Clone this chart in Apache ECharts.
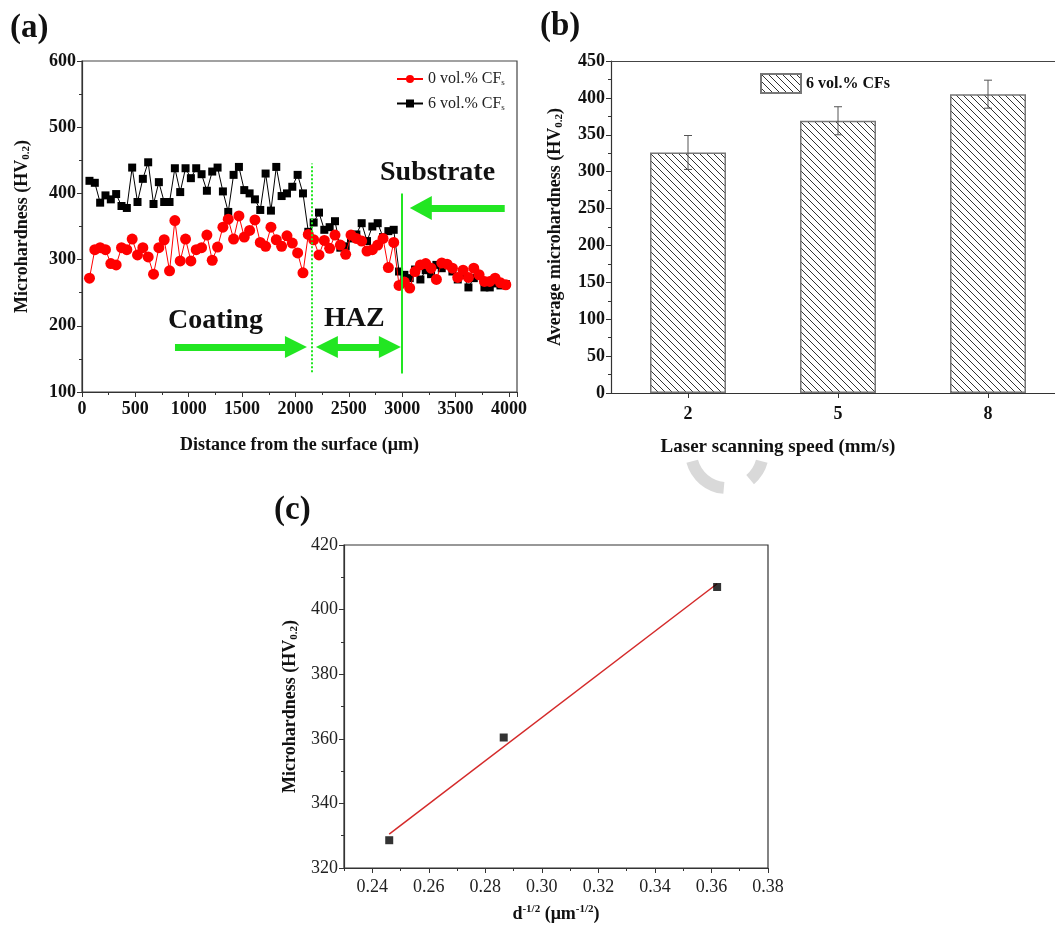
<!DOCTYPE html>
<html>
<head>
<meta charset="utf-8">
<script src="https://cdn.jsdelivr.net/npm/echarts@6/dist/echarts.min.js"></script>
<style>
html, body { margin: 0; padding: 0; background: #fff; }
#main { width: 1055px; height: 934px; }
</style>
</head>
<body>
<div id="main"></div>
<script>
// (a) hardness profile
const distance = [70,120,170,220,270,320,370,420,470,520,570,620,670,720,770,820,870,920,970,1020,
  1070,1120,1170,1220,1270,1320,1370,1420,1470,1520,1570,1620,1670,1720,1770,1820,1870,1920,1970,2020,
  2070,2120,2170,2220,2270,2320,2370,2420,2470,2520,2570,2620,2670,2720,2770,2820,2870,2920,2970,3020,
  3070,3120,3170,3220,3270,3320,3370,3420,3470,3520,3570,3620,3670,3720,3770,3820,3870,3920,3970];
const hv0 = [272,315,318,315,294,292,318,315,331,307,318,304,278,318,330,283,359,298,331,298,
  315,318,337,299,319,349,361,331,366,334,344,360,326,320,349,330,320,336,325,310,
  280,338,330,307,329,317,337,322,308,337,332,328,313,315,322,332,288,326,261,266,
  257,282,292,294,287,270,295,293,287,273,284,273,287,277,267,267,272,265,262];
const hv6 = [419,416,386,397,391,399,381,378,439,387,422,447,384,417,387,387,438,402,438,423,
  438,429,404,433,439,403,372,428,440,405,400,391,375,430,374,440,396,400,410,428,
  400,342,356,371,345,349,358,318,320,332,338,355,328,350,355,334,343,345,282,277,
  272,285,270,284,278,292,287,292,282,270,277,258,272,277,258,258,264,261,263];

// (b) average hardness vs scanning speed
const speeds = [2, 5, 8];
const avgHv = [326, 369, 405];
const errHv = [23, 19, 19];

// (c) Hall-Petch
const dInv = [0.246, 0.2865, 0.362];
const hvC = [328.6, 360.4, 407];
const xTicksC = [0.24, 0.26, 0.28, 0.30, 0.32, 0.34, 0.36, 0.38];
const xMinorC = [0.23, 0.25, 0.27, 0.29, 0.31, 0.33, 0.35, 0.37];

// least squares fit
const mx = dInv.reduce((a, b) => a + b, 0) / dInv.length;
const my = hvC.reduce((a, b) => a + b, 0) / hvC.length;
let sxy = 0, sxx = 0;
dInv.forEach((x, i) => { sxy += (x - mx) * (hvC[i] - my); sxx += (x - mx) * (x - mx); });
const slope = sxy / sxx;
const fitEnds = [dInv[0], dInv[dInv.length - 1]].map(x => [x, my + slope * (x - mx)]);

const FONT = '"Liberation Serif", "Times New Roman", serif';
const GREEN = '#22e622';

function hatch() {
  const s = 7;
  const c = document.createElement('canvas');
  c.width = c.height = s;
  const g = c.getContext('2d');
  g.fillStyle = '#fff';
  g.fillRect(0, 0, s, s);
  g.strokeStyle = '#333';
  g.lineWidth = 1;
  g.beginPath();
  [-s, 0, s].forEach(k => { g.moveTo(-1, -1 + k); g.lineTo(s + 1, s + 1 + k); });
  g.stroke();
  return c;
}

const boldLabel = { fontFamily: FONT, fontWeight: 'bold', fontSize: 18, color: '#111' };
const axisLine = { show: true, lineStyle: { color: '#333', width: 1.2 } };
const subRich = {
  sub: { fontFamily: FONT, fontWeight: 'bold', fontSize: 11, color: '#111', padding: [8, 0, 0, 0] }
};
const nameStyle = Object.assign({}, boldLabel, { rich: subRich });
const hatchFill = { image: hatch(), repeat: 'repeat' };

const chart = echarts.init(document.getElementById('main'));

chart.setOption({
  animation: false,
  backgroundColor: '#fff',
  grid: [
    { left: 82, top: 61, width: 435, height: 331, show: true, borderColor: '#444', borderWidth: 1.2 },
    { left: 611, top: 61, width: 444, height: 332 },
    { left: 344, top: 545, width: 424, height: 323, show: true, borderColor: '#333', borderWidth: 1.2 }
  ],
  legend: [
    {
      data: ['a0', 'a6'], orient: 'vertical', left: 396, top: 71, padding: 0, itemGap: 8,
      itemWidth: 26, itemHeight: 10,
      formatter: n => (n === 'a0' ? '0' : '6') + ' vol.% CF{s|s}',
      textStyle: {
        fontFamily: FONT, fontSize: 16, color: '#222',
        rich: { s: { fontFamily: FONT, fontSize: 9, color: '#222', padding: [8, 0, 0, 0] } }
      }
    },
    {
      data: ['b6'], left: 760, top: 73, padding: 0, itemWidth: 40, itemHeight: 19, icon: 'rect',
      formatter: () => '6 vol.% CFs',
      textStyle: { fontFamily: FONT, fontSize: 16, fontWeight: 'bold', color: '#111' }
    }
  ],
  xAxis: [
    {
      gridIndex: 0, type: 'value', min: 0, max: 4075, interval: 500,
      axisLine: axisLine, splitLine: { show: false },
      axisTick: { length: 5, lineStyle: { color: '#333' } },
      minorTick: { show: true, splitNumber: 2, length: 3, lineStyle: { color: '#333' } },
      axisLabel: Object.assign({ margin: 8, showMaxLabel: false, formatter: v => String(v) }, boldLabel),
      name: 'Distance from the surface (\u03bcm)', nameLocation: 'middle', nameGap: 44,
      nameTextStyle: boldLabel
    },
    {
      gridIndex: 1, type: 'value', min: 0.46, max: 9.34,
      axisLine: axisLine, splitLine: { show: false },
      axisTick: { length: 5, customValues: speeds, lineStyle: { color: '#333' } },
      axisLabel: Object.assign({ margin: 12, customValues: speeds }, boldLabel)
    },
    {
      gridIndex: 2, type: 'value', min: 0.23, max: 0.38,
      axisLine: axisLine, splitLine: { show: false },
      axisTick: { length: 5, customValues: xTicksC, lineStyle: { color: '#333' } },
      axisLabel: {
        customValues: xTicksC, formatter: v => v.toFixed(2), margin: 10,
        fontFamily: FONT, fontSize: 18, color: '#222'
      },
      name: 'd{sup|-1/2} (\u03bcm{sup|-1/2})', nameLocation: 'middle', nameGap: 36,
      nameTextStyle: Object.assign({}, boldLabel, {
        rich: { sup: { fontFamily: FONT, fontWeight: 'bold', fontSize: 11, color: '#111', padding: [0, 0, 9, 0] } }
      })
    },
    {
      gridIndex: 2, type: 'value', min: 0.23, max: 0.38, position: 'bottom',
      axisLine: { show: false }, splitLine: { show: false },
      axisTick: { length: 3, customValues: xMinorC, lineStyle: { color: '#333' } },
      axisLabel: { show: false, customValues: xMinorC }
    },
    {
      // top frame line of (b)
      gridIndex: 1, type: 'value', min: 0.46, max: 9.34, position: 'top',
      axisLine: { show: true, lineStyle: { color: '#444', width: 1.2 } },
      axisTick: { show: false }, axisLabel: { show: false }, splitLine: { show: false }
    }
  ],
  yAxis: [
    {
      gridIndex: 0, type: 'value', min: 100, max: 600, interval: 100,
      axisLine: axisLine, splitLine: { show: false },
      axisTick: { show: true, length: 5, lineStyle: { color: '#333' } },
      minorTick: { show: true, splitNumber: 2, length: 3, lineStyle: { color: '#333' } },
      axisLabel: Object.assign({ margin: 6 }, boldLabel),
      name: 'Microhardness (HV{sub|0.2})', nameLocation: 'middle', nameGap: 50,
      nameTextStyle: nameStyle
    },
    {
      gridIndex: 1, type: 'value', min: 0, max: 450, interval: 50,
      axisLine: axisLine, splitLine: { show: false },
      axisTick: { show: true, length: 5, lineStyle: { color: '#333' } },
      minorTick: { show: true, splitNumber: 2, length: 3, lineStyle: { color: '#333' } },
      axisLabel: Object.assign({ margin: 6 }, boldLabel),
      name: 'Average microhardness (HV{sub|0.2})', nameLocation: 'middle', nameGap: 46,
      nameTextStyle: nameStyle
    },
    {
      gridIndex: 2, type: 'value', min: 320, max: 420, interval: 20,
      axisLine: axisLine, splitLine: { show: false },
      axisTick: { show: true, length: 5, lineStyle: { color: '#333' } },
      minorTick: { show: true, splitNumber: 2, length: 3, lineStyle: { color: '#333' } },
      axisLabel: { margin: 6, fontFamily: FONT, fontSize: 18, color: '#222' },
      name: 'Microhardness (HV{sub|0.2})', nameLocation: 'middle', nameGap: 44,
      nameTextStyle: nameStyle
    }
  ],
  series: [
    {
      name: 'a6', type: 'line', xAxisIndex: 0, yAxisIndex: 0,
      data: distance.map((d, i) => [d, hv6[i]]),
      symbol: 'rect', symbolSize: 8,
      itemStyle: { color: '#000' }, lineStyle: { color: '#000', width: 1 },
      z: 2,
      markLine: {
        silent: true, label: { show: false }, symbol: 'none',
        data: [
          [{ coord: [2150, 130], symbol: 'none', lineStyle: { color: GREEN, width: 2, type: [2, 2] } },
           { coord: [2150, 445], symbol: 'none' }],
          [{ coord: [3000, 128], symbol: 'none', lineStyle: { color: GREEN, width: 2, type: 'solid' } },
           { coord: [3000, 400], symbol: 'none' }],
          [{ coord: [871, 168], symbol: 'none', lineStyle: { color: GREEN, width: 7, type: 'solid' } },
           { coord: [2004, 168], symbol: 'triangle', symbolSize: [22, 22] }],
          [{ coord: [2294, 168], symbol: 'triangle', symbolSize: [22, 22], lineStyle: { color: GREEN, width: 7, type: 'solid' } },
           { coord: [2884, 168], symbol: 'triangle', symbolSize: [22, 22] }],
          [{ coord: [3960, 378], symbol: 'none', lineStyle: { color: GREEN, width: 7, type: 'solid' } },
           { coord: [3174, 378], symbol: 'triangle', symbolSize: [24, 22] }]
        ],
        itemStyle: { color: GREEN }
      }
    },
    {
      name: 'a0', type: 'line', xAxisIndex: 0, yAxisIndex: 0,
      data: distance.map((d, i) => [d, hv0[i]]),
      symbol: 'circle', symbolSize: 11,
      itemStyle: { color: '#ff0000' }, lineStyle: { color: '#ff0000', width: 1 },
      z: 3
    },
    {
      name: 'b6', type: 'bar', xAxisIndex: 1, yAxisIndex: 1,
      data: speeds.map((s, i) => [s, avgHv[i]]), barWidth: 76,
      itemStyle: { color: hatchFill, borderColor: '#777', borderWidth: 1.5 }
    },
    {
      name: 'err', type: 'custom', xAxisIndex: 1, yAxisIndex: 1, z: 5,
      data: speeds.map((s, i) => [s, avgHv[i] - errHv[i], avgHv[i] + errHv[i]]),
      renderItem: (params, api) => {
        const lo = api.coord([api.value(0), api.value(1)]);
        const hi = api.coord([api.value(0), api.value(2)]);
        const w = 4;
        const st = { stroke: '#555', lineWidth: 1 };
        return {
          type: 'group',
          children: [
            { type: 'line', shape: { x1: hi[0], y1: hi[1], x2: lo[0], y2: lo[1] }, style: st },
            { type: 'line', shape: { x1: hi[0] - w, y1: hi[1], x2: hi[0] + w, y2: hi[1] }, style: st },
            { type: 'line', shape: { x1: lo[0] - w, y1: lo[1], x2: lo[0] + w, y2: lo[1] }, style: st }
          ]
        };
      }
    },
    {
      name: 'fit', type: 'line', xAxisIndex: 2, yAxisIndex: 2,
      data: fitEnds, symbol: 'none',
      lineStyle: { color: '#d42a2a', width: 1.5 }
    },
    {
      name: 'c', type: 'scatter', xAxisIndex: 2, yAxisIndex: 2, z: 4,
      data: dInv.map((x, i) => [x, hvC[i]]),
      symbol: 'rect', symbolSize: 8, itemStyle: { color: '#000' }
    }
  ],
  graphic: [
    { type: 'text', left: 10, top: 12, style: { text: '(a)', font: 'bold 33px ' + FONT, fill: '#111' } },
    { type: 'text', left: 540, top: 10, style: { text: '(b)', font: 'bold 33px ' + FONT, fill: '#111' } },
    { type: 'text', left: 274, top: 494, style: { text: '(c)', font: 'bold 33px ' + FONT, fill: '#111' } },
    { type: 'text', left: 168, top: 307, style: { text: 'Coating', font: 'bold 28px ' + FONT, fill: '#111' } },
    { type: 'text', left: 324, top: 305, style: { text: 'HAZ', font: 'bold 28px ' + FONT, fill: '#111' } },
    { type: 'text', left: 380, top: 159, style: { text: 'Substrate', font: 'bold 28px ' + FONT, fill: '#111' } },
    {
      type: 'text', x: 778, y: 447,
      style: { text: 'Laser scanning speed (mm/s)', font: 'bold 19px ' + FONT, fill: '#111', align: 'center', verticalAlign: 'middle' }
    },
    {
      type: 'arc', shape: { cx: 727, cy: 452, r: 36, startAngle: 95 * Math.PI / 180, endAngle: 165 * Math.PI / 180 },
      style: { stroke: '#d9d9d9', lineWidth: 12, fill: null }
    },
    {
      type: 'arc', shape: { cx: 727, cy: 452, r: 36, startAngle: 15 * Math.PI / 180, endAngle: 50 * Math.PI / 180 },
      style: { stroke: '#d9d9d9', lineWidth: 12, fill: null }
    }
  ]
});
</script>
</body>
</html>
